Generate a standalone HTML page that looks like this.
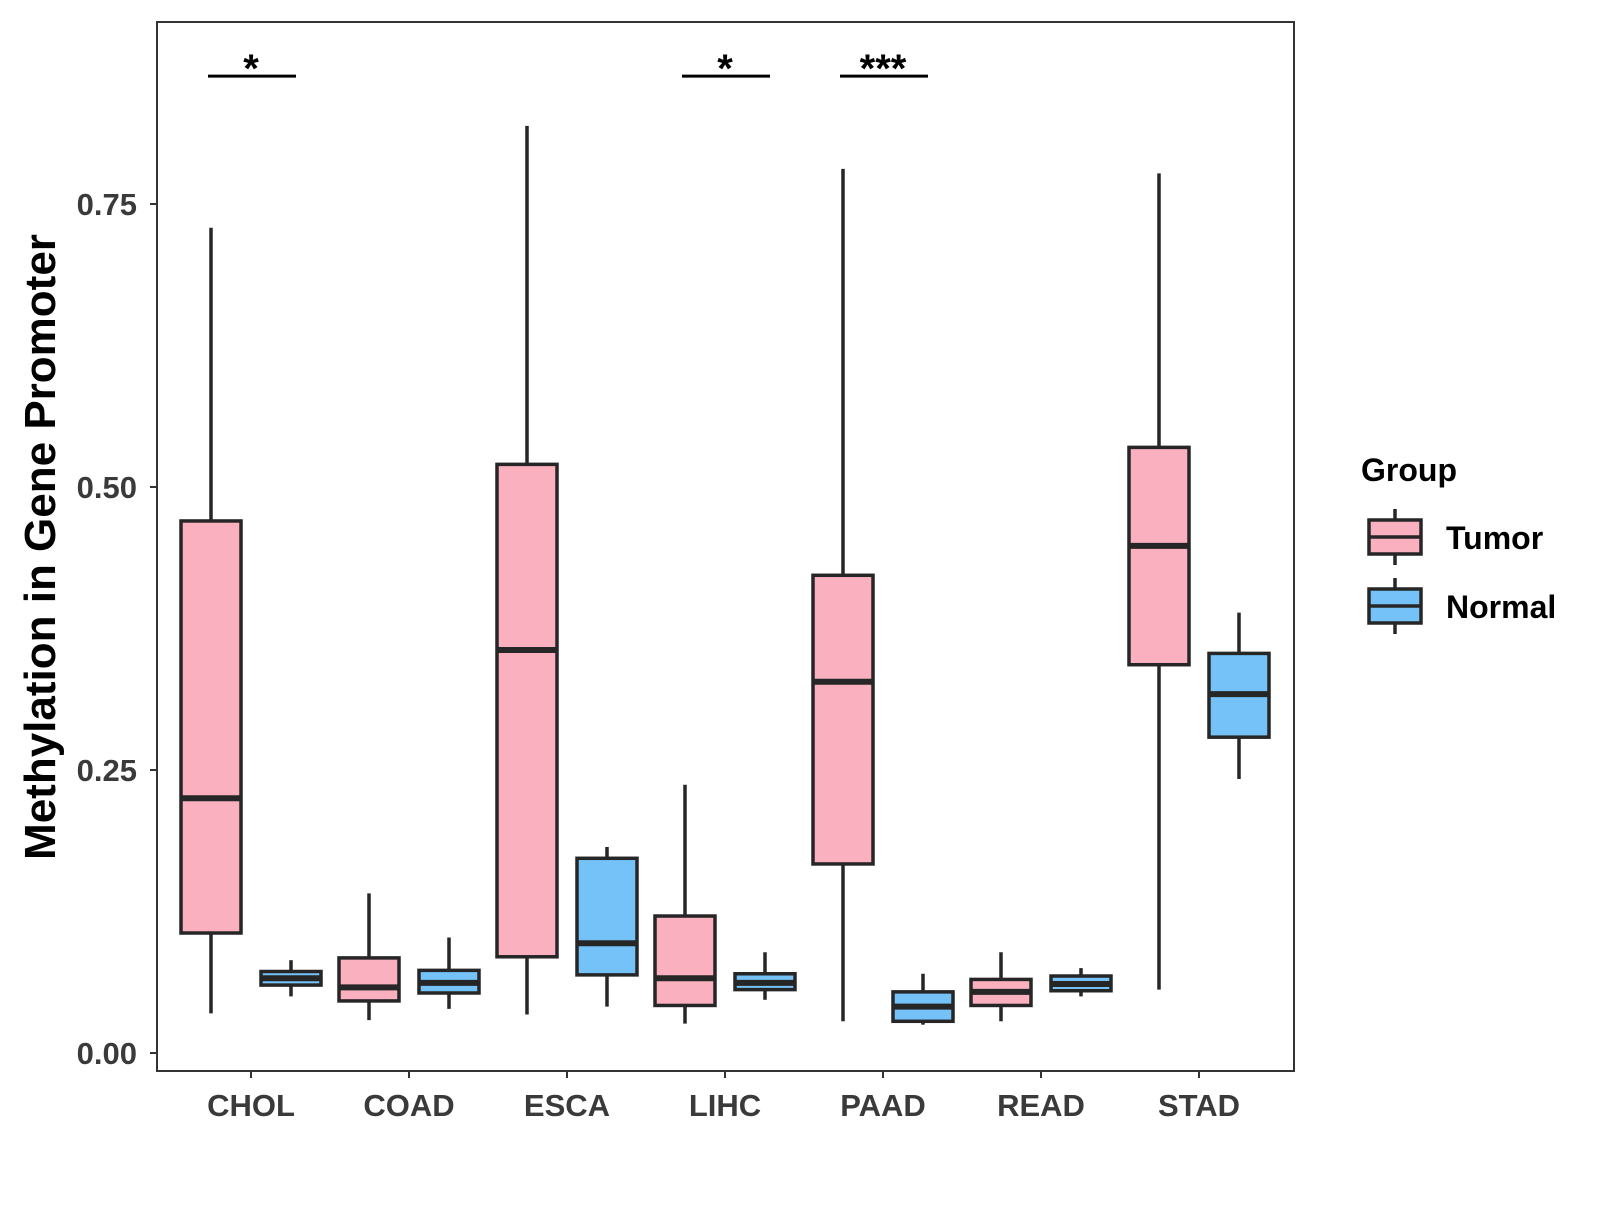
<!DOCTYPE html>
<html><head><meta charset="utf-8"><style>
body{margin:0;background:#fff}
svg text{font-family:"Liberation Sans",Arial,sans-serif;font-weight:bold}
</style></head><body>
<svg id="chart" width="1600" height="1200" xmlns="http://www.w3.org/2000/svg">
<rect x="157" y="22" width="1137" height="1049" fill="#fff" stroke="#333" stroke-width="2"/>
<g id="marks"></g>
<text transform="translate(55,547) rotate(-90)" text-anchor="middle" font-size="44" fill="#000">Methylation in Gene Promoter</text>
<g>
<text x="1361" y="481" font-size="32" fill="#000">Group</text>
<g>
<line x1="1395" y1="509" x2="1395" y2="565" stroke="#262626" stroke-width="3.5"/>
<rect x="1369" y="520" width="52" height="34" fill="#FBB0C0" stroke="#262626" stroke-width="3.5"/>
<line x1="1369" y1="537" x2="1421" y2="537" stroke="#262626" stroke-width="3.5"/>
<text x="1446" y="549" font-size="32" fill="#000">Tumor</text>
</g>
<g>
<line x1="1395" y1="578" x2="1395" y2="634" stroke="#262626" stroke-width="3.5"/>
<rect x="1369" y="589" width="52" height="34" fill="#74C2F8" stroke="#262626" stroke-width="3.5"/>
<line x1="1369" y1="606" x2="1421" y2="606" stroke="#262626" stroke-width="3.5"/>
<text x="1446" y="618" font-size="32" fill="#000">Normal</text>
</g>
</g>
</svg>
<script>
const categories=["CHOL","COAD","ESCA","LIHC","PAAD","READ","STAD"];
const tumorMin=[0.035,0.029,0.034,0.026,0.028,0.028,0.056];
const tumorQ1=[0.106,0.046,0.085,0.042,0.167,0.042,0.343];
const tumorMed=[0.225,0.058,0.356,0.066,0.328,0.054,0.448];
const tumorQ3=[0.470,0.084,0.520,0.121,0.422,0.065,0.535];
const tumorMax=[0.729,0.141,0.819,0.237,0.781,0.089,0.777];
const normalMin=[0.050,0.039,0.041,0.047,0.025,0.050,0.242];
const normalQ1=[0.060,0.053,0.069,0.056,0.028,0.055,0.279];
const normalMed=[0.066,0.062,0.097,0.062,0.041,0.061,0.317];
const normalQ3=[0.072,0.073,0.172,0.070,0.054,0.068,0.353];
const normalMax=[0.082,0.102,0.182,0.089,0.070,0.075,0.389];
const yTicks=[0,0.25,0.5,0.75];
const yTickLabels=["0.00","0.25","0.50","0.75"];
const sigCats=["CHOL","LIHC","PAAD"];
const sigLabels=["*","*","***"];
const sigLevel=0.863;

const NS="http://www.w3.org/2000/svg";
const g=document.getElementById('marks');
function y(v){return 1053-v*1132;}
function x(i){return 251+158*i;}
function mk(t,a){const e=document.createElementNS(NS,t);for(const k in a)e.setAttribute(k,a[k]);g.appendChild(e);return e;}
const S="#262626";
yTicks.forEach((v,i)=>{
  const t=mk('line',{x1:150,x2:157,y1:y(v),y2:y(v),stroke:"#333","stroke-width":2});
  
  
  const l=mk('text',{x:137,y:y(v)+11,"text-anchor":"end","font-size":31,fill:"#3a3a3a"});
  l.textContent=yTickLabels[i];
  
  
});
categories.forEach((c,i)=>{
  const t=mk('line',{x1:x(i),x2:x(i),y1:1071,y2:1078,stroke:"#333","stroke-width":2});
  
  
  const l=mk('text',{x:x(i),y:1116,"text-anchor":"middle","font-size":31,fill:"#3a3a3a"});
  l.textContent=c;
  
  
});
function box(cx,mn,q1,md,q3,mx,fill,name){
  const w=mk('line',{x1:cx,x2:cx,y1:y(mn),y2:y(mx),stroke:S,"stroke-width":3.5});
  
  
  const r=mk('rect',{x:cx-30,y:y(q3),width:60,height:y(q1)-y(q3),fill:fill,stroke:S,"stroke-width":3.5});
  
  
  const m=mk('line',{x1:cx-30,x2:cx+30,y1:y(md),y2:y(md),stroke:S,"stroke-width":6});
  
  
}
categories.forEach((c,i)=>{
  box(x(i)-40,tumorMin[i],tumorQ1[i],tumorMed[i],tumorQ3[i],tumorMax[i],"#FBB0C0",c.toLowerCase()+'-tumor');
  box(x(i)+40,normalMin[i],normalQ1[i],normalMed[i],normalQ3[i],normalMax[i],"#74C2F8",c.toLowerCase()+'-normal');
});
sigCats.forEach((c,k)=>{
  const i=categories.indexOf(c);
  const b=mk('line',{x1:x(i)-43,x2:x(i)+45,y1:y(sigLevel),y2:y(sigLevel),stroke:"#000","stroke-width":3});
  
  
  const t=mk('text',{x:x(i),y:y(sigLevel)+6,"text-anchor":"middle","font-size":40,fill:"#000"});
  t.textContent=sigLabels[k];
  
  
});
</script>
</body></html>
